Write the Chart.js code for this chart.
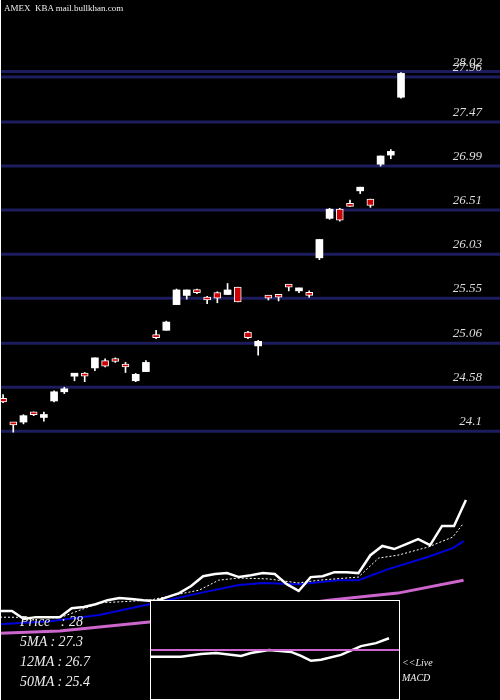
<!DOCTYPE html>
<html><head><meta charset="utf-8">
<script src="https://cdn.jsdelivr.net/npm/chart.js@4"></script>
<style>
body{margin:0;background:#000;width:500px;height:700px;overflow:hidden;position:relative;font-family:"Liberation Serif",serif;}
.c{position:absolute;}
#leftline{position:absolute;left:0;top:0;width:1px;height:700px;background:#fff;}
.t{position:absolute;color:#eee;font-style:italic;white-space:pre;}
</style></head><body>
<div class="c" style="left:0;top:440px;width:500px;height:260px"><canvas id="ma"></canvas></div>
<div class="c" style="left:0;top:0;width:500px;height:445px"><canvas id="price"></canvas></div>
<div class="c" style="left:150px;top:600px;width:250px;height:100px;background:#000;border:1px solid #fff;box-sizing:border-box"><canvas id="macd"></canvas></div>
<div id="leftline"></div>
<div class="t" style="left:4px;top:3px;font-size:9px;font-style:normal">AMEX  KBA mail.bullkhan.com</div>
<div class="t" style="left:20px;top:614px;font-size:14px">Price   : 28</div>
<div class="t" style="left:20px;top:634px;font-size:14px">5MA : 27.3</div>
<div class="t" style="left:20px;top:654px;font-size:14px">12MA : 26.7</div>
<div class="t" style="left:20px;top:674px;font-size:14px">50MA : 25.4</div>
<div class="t" style="left:402px;top:657px;font-size:10px">&lt;&lt;Live</div>
<div class="t" style="left:402px;top:672px;font-size:10px">MACD</div>
<script>
// candles: open, high, low, close
const opens  = [24.46,24.19,24.20,24.30,24.25,24.43,24.53,24.70,24.72,24.79,24.87,24.89,24.81,24.65,24.75,25.14,25.20,25.48,25.58,25.63,25.55,25.61,25.59,25.67,25.18,25.03,25.56,25.57,25.68,25.63,25.61,25.99,26.42,26.52,26.57,26.72,26.63,27.01,27.11,27.74];
const highs  = [24.50,24.19,24.28,24.31,24.31,24.54,24.58,24.73,24.74,24.90,24.89,24.90,24.85,24.73,24.87,25.20,25.30,25.65,25.64,25.65,25.57,25.62,25.71,25.67,25.19,25.09,25.58,25.57,25.70,25.66,25.63,26.19,26.53,26.53,26.62,26.76,26.63,27.10,27.17,28.01];
const lows   = [24.41,24.09,24.18,24.27,24.21,24.42,24.51,24.65,24.64,24.76,24.80,24.85,24.74,24.64,24.75,25.11,25.20,25.48,25.54,25.60,25.49,25.50,25.59,25.51,25.11,24.93,25.53,25.52,25.63,25.61,25.56,25.97,26.41,26.39,26.55,26.69,26.54,26.99,27.07,27.73];
const closes = [24.42,24.17,24.27,24.28,24.26,24.53,24.54,24.71,24.70,24.90,24.81,24.86,24.80,24.72,24.85,25.12,25.29,25.64,25.64,25.61,25.53,25.55,25.64,25.51,25.12,25.08,25.55,25.56,25.67,25.66,25.58,26.19,26.52,26.40,26.55,26.76,26.56,27.10,27.15,28.00];
const priceTicks = [28.02,27.96,27.47,26.99,26.51,26.03,25.55,25.06,24.58,24.1];

// moving average panel
const priceLine = [24.40,24.40,24.14,24.20,24.20,24.20,24.49,24.53,24.62,24.75,24.82,24.79,24.75,24.72,24.85,24.98,25.21,25.53,25.60,25.63,25.50,25.56,25.63,25.60,25.27,25.05,25.50,25.53,25.66,25.66,25.63,26.21,26.51,26.41,26.57,26.73,26.54,27.16,27.16,28.00];
const ma5X  = [0,5,8.3,12.5,16.7,18.3,20,22.5,23.8,25,26.7,30,31.7,33.3,35.8,37.9,38.8];
const ma5Y  = [24.20,24.18,24.66,24.75,25.08,25.40,25.47,25.44,25.37,25.31,25.40,25.50,26.12,26.21,26.47,26.80,27.25];
const ma12X = [0,4.2,8.3,12.5,16.7,20,22,25,28.3,30,32.5,35.8,37.9,38.8];
const ma12Y = [23.97,24.07,24.27,24.62,24.98,25.24,25.31,25.27,25.40,25.40,25.76,26.15,26.44,26.67];
const ma50X = [0,5,12.5,20.8,27.5,33.3,38.8];
const ma50Y = [23.68,23.75,24.04,24.40,24.75,24.98,25.40];

// MACD
const macdX = [0,30,50,65,90,100,118,140,150,160,170,190,210,225,238];
const macdY = [-0.07,-0.07,-0.04,-0.03,-0.06,-0.03,0.00,-0.02,-0.06,-0.11,-0.10,-0.05,0.04,0.07,0.12];

const up = closes.map((c, i) => c >= opens[i]);

// price gridlines + labels, drawn under the candles
const priceGrid = {
  id: 'priceGrid',
  beforeDatasetsDraw(chart) {
    const ctx = chart.ctx, y = chart.scales.y;
    ctx.save();
    ctx.strokeStyle = '#1c1c5e';
    ctx.lineWidth = 3;
    ctx.fillStyle = '#ddd';
    ctx.font = 'italic 13px "Liberation Serif"';
    ctx.textAlign = 'right';
    priceTicks.forEach(v => {
      const py = y.getPixelForValue(v);
      ctx.beginPath(); ctx.moveTo(0, py); ctx.lineTo(500, py); ctx.stroke();
      ctx.fillText(String(v), 482, py - 6);
    });
    ctx.restore();
  }
};

new Chart(document.getElementById('price'), {
  type: 'bar',
  data: {
    datasets: [{
      data: opens.map((o, i) => ({x: i, y: [lows[i], highs[i]]})),
      backgroundColor: '#fff', barThickness: 1, grouped: false, order: 2
    }, {
      data: opens.map((o, i) => ({x: i, y: [o, closes[i]]})),
      backgroundColor: up.map(u => u ? '#fff' : '#cc0000'),
      borderColor: '#fff', borderWidth: up.map(u => u ? 0 : 1),
      borderSkipped: false, barThickness: 7, minBarLength: 3, grouped: false, order: 1
    }]
  },
  options: {
    responsive: true, maintainAspectRatio: false, animation: false,
    layout: {padding: 0},
    plugins: {legend: {display: false}, tooltip: {enabled: false}},
    scales: {
      x: {type: 'linear', min: -0.3, max: 48.7, offset: false, display: false},
      y: {min: 23.95, max: 28.8, display: false}
    }
  },
  plugins: [priceGrid]
});

function line(xs, ys, color, width, dash) {
  return {data: xs.map((x, i) => ({x: x, y: ys[i]})), borderColor: color, borderWidth: width,
    borderDash: dash || [], pointRadius: 0, tension: 0, fill: false};
}

new Chart(document.getElementById('ma'), {
  type: 'line',
  data: {datasets: [
    line(priceLine.map((v, i) => i), priceLine, '#fff', 2.5),
    line(ma5X, ma5Y, '#fff', 1, [2, 2]),
    line(ma12X, ma12Y, '#0000dd', 2),
    line(ma50X, ma50Y, '#cc66cc', 3)
  ]},
  options: {
    responsive: true, maintainAspectRatio: false, animation: false,
    layout: {padding: 0},
    plugins: {legend: {display: false}, tooltip: {enabled: false}},
    scales: {x: {type: 'linear', min: 0, max: 41.85, display: false},
             y: {min: 21.51, max: 29.95, display: false}}
  }
});

new Chart(document.getElementById('macd'), {
  type: 'line',
  data: {datasets: [
    line([0, 248], [0, 0], '#cc66cc', 2),
    line(macdX, macdY, '#fff', 2.5)
  ]},
  options: {
    responsive: true, maintainAspectRatio: false, animation: false,
    layout: {padding: 0},
    plugins: {legend: {display: false}, tooltip: {enabled: false}},
    scales: {x: {type: 'linear', min: 0, max: 248, display: false},
             y: {min: -0.5, max: 0.5, display: false}}
  }
});
</script>
</body></html>
